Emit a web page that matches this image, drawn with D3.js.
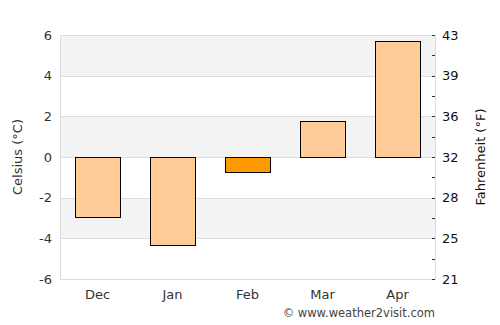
<!DOCTYPE html>
<html><head><meta charset="utf-8">
<script src="https://cdn.jsdelivr.net/npm/d3@7"></script>
<style>body{margin:0;background:#fff}svg{display:block;font-family:"DejaVu Sans",sans-serif}</style>
</head><body><svg id="c" width="500" height="325"></svg>
<script>
const months = ["Dec","Jan","Feb","Mar","Apr"];
const celsius = [-2.95, -4.32, -0.75, 1.75, 5.7];
const highlight = ["Feb"];
const cTicks = [-6,-4,-2,0,2,4,6];
const fTickLabels = ["21","25","28","32","36","39","43"];

const svg = d3.select("#c");
const L=60,R=435,T=35,B=279;
const x = d3.scaleBand().domain(months).range([L,R]).paddingInner(0.4).paddingOuter(0.2);
const y = d3.scaleLinear().domain([-6,6]).range([B,T]);
const py = v => Math.round(y(v));

// bands
for (let i=0;i<cTicks.length-1;i++){
  const lo=cTicks[i], hi=cTicks[i+1];
  const gray = (lo===4||lo===0||lo===-4);
  svg.append("rect").attr("x",L).attr("y",py(hi)).attr("width",R-L).attr("height",py(lo)-py(hi))
    .attr("fill", gray?"#f3f3f3":"#ffffff");
}
// grid
svg.append("g").selectAll("line").data(cTicks).join("line")
  .attr("x1",L).attr("x2",R).attr("y1",d=>py(d)+0.5).attr("y2",d=>py(d)+0.5)
  .attr("stroke","#dddddd").attr("stroke-width",1);
// axis lines
svg.append("line").attr("x1",L+0.5).attr("x2",L+0.5).attr("y1",T).attr("y2",B+1).attr("stroke","#dddddd");
svg.append("line").attr("x1",R+0.5).attr("x2",R+0.5).attr("y1",T).attr("y2",B+1).attr("stroke","#dddddd");

// bars
svg.append("g").selectAll("rect").data(months).join("rect")
  .attr("x",d=>Math.round(x(d))+0.5)
  .attr("width",Math.round(x.bandwidth()))
  .attr("y",(d,i)=>py(Math.max(0,celsius[i]))+0.5)
  .attr("height",(d,i)=>Math.abs(py(celsius[i])-py(0)))
  .attr("fill",d=>highlight.includes(d)?"#ff9900":"#ffcc99")
  .attr("stroke","#000").attr("stroke-width",1);

// left axis labels
svg.append("g").selectAll("text").data(cTicks).join("text")
  .attr("x",52).attr("y",d=>y(d)).attr("dy","0.35em").attr("text-anchor","end")
  .attr("font-size",13).attr("fill","#333").text(d=>d);
// right axis
svg.append("g").selectAll("text").data(cTicks).join("text")
  .attr("x",442).attr("y",d=>y(d)).attr("dy","0.35em").attr("text-anchor","start")
  .attr("font-size",13).attr("fill","#111").text((d,i)=>fTickLabels[i]);
const minor = d3.range(-6,6.01,1);
svg.append("g").selectAll("line").data(minor).join("line")
  .attr("x1",432).attr("x2",435).attr("y1",d=>py(d)+0.5).attr("y2",d=>py(d)+0.5)
  .attr("stroke","#333");
// month labels
svg.append("g").selectAll("text").data(months).join("text")
  .attr("x",d=>x(d)+x.bandwidth()/2).attr("y",299).attr("text-anchor","middle")
  .attr("font-size",13).attr("fill","#333").text(d=>d);
// axis titles
svg.append("text").attr("transform",`translate(22,${(T+B)/2}) rotate(-90)`)
  .attr("text-anchor","middle").attr("font-size",13).attr("fill","#333").text("Celsius (°C)");
svg.append("text").attr("transform",`translate(485,${(T+B)/2}) rotate(-90)`)
  .attr("text-anchor","middle").attr("font-size",13).attr("fill","#111").text("Fahrenheit (°F)");
svg.append("text").attr("x",435).attr("y",317).attr("text-anchor","end")
  .attr("font-size",11.5).attr("fill","#444").text("© www.weather2visit.com");
</script></body></html>
